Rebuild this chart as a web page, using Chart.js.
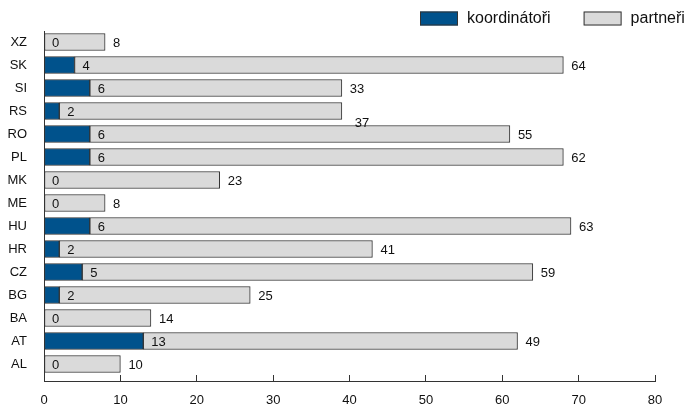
<!DOCTYPE html>
<html>
<head>
<meta charset="utf-8">
<script src="https://cdn.jsdelivr.net/npm/chart.js@4/dist/chart.umd.min.js"></script>
<style>
  html, body { margin: 0; padding: 0; background: #fff; }
  #wrap { width: 689px; height: 407px; position: relative; }
</style>
</head>
<body>
<div id="wrap"><canvas id="c"></canvas></div>
<script>
// categories, top to bottom as in the picture
const countries = ['XZ', 'SK', 'SI', 'RS', 'RO', 'PL', 'MK', 'ME', 'HU', 'HR', 'CZ', 'BG', 'BA', 'AT', 'AL'];
const coordinators = [0, 4, 6, 2, 6, 6, 0, 0, 6, 2, 5, 2, 0, 13, 0];
const partners = [8, 64, 33, 37, 55, 62, 23, 8, 63, 41, 59, 25, 14, 49, 10];
const xTicks = [0, 10, 20, 30, 40, 50, 60, 70, 80];

const BLUE = 'rgb(0, 82, 140)';
const GREY = 'rgb(218, 218, 218)';
const EDGE = '#333';
const FONT = '"Liberation Sans", Arial, Helvetica, sans-serif';

// the "37" label of RS sits a bit off in the original
const labelNudge = { RS: [5, 11] };

const toPoints = (arr) => arr.map((v, i) => ({ x: v, y: i }));

const valueLabels = {
  id: 'valueLabels',
  afterDatasetsDraw(chart) {
    const ctx = chart.ctx;
    ctx.save();
    ctx.font = '13px ' + FONT;
    ctx.fillStyle = '#111';
    ctx.textAlign = 'left';
    ctx.textBaseline = 'middle';
    chart.data.datasets.forEach((ds, di) => {
      const meta = chart.getDatasetMeta(di);
      meta.data.forEach((bar, i) => {
        let dx = 0, dy = 0;
        const nudge = labelNudge[countries[i]];
        if (di === 1 && nudge) { dx = nudge[0]; dy = nudge[1]; }
        ctx.fillText(String(ds.data[i].x), bar.x + 8 + dx, bar.y + 1 + dy);
      });
    });
    ctx.restore();
  }
};

const topLegend = {
  id: 'topLegend',
  afterDraw(chart) {
    const ctx = chart.ctx;
    ctx.save();
    ctx.font = '16px ' + FONT;
    const boxW = 38, boxH = 14, gap = 9, itemGap = 33, cy = 18.5;
    let x = 420;
    chart.data.datasets.forEach(ds => {
      ctx.fillStyle = ds.backgroundColor;
      ctx.fillRect(x, cy - boxH / 2, boxW, boxH);
      ctx.strokeStyle = EDGE;
      ctx.lineWidth = 1;
      ctx.strokeRect(x + 0.5, cy - boxH / 2 + 0.5, boxW - 1, boxH - 1);
      ctx.fillStyle = '#111';
      ctx.textBaseline = 'middle';
      ctx.fillText(ds.label, x + boxW + gap, cy);
      x += boxW + gap + ctx.measureText(ds.label).width + itemGap;
    });
    ctx.restore();
  }
};

new Chart(document.getElementById('c'), {
  type: 'bar',
  data: {
    datasets: [
      {
        label: 'koordinátoři',
        data: toPoints(coordinators),
        backgroundColor: BLUE,
        borderColor: EDGE,
        borderWidth: 1,
        borderSkipped: false,
        barThickness: 17
      },
      {
        label: 'partneři',
        data: toPoints(partners),
        backgroundColor: GREY,
        borderColor: EDGE,
        borderWidth: 1,
        borderSkipped: false,
        barThickness: 17
      }
    ]
  },
  options: {
    indexAxis: 'y',
    responsive: true,
    maintainAspectRatio: false,
    animation: false,
    layout: { padding: { top: 31, right: 34, left: 0, bottom: 0 } },
    plugins: {
      legend: { display: false },
      tooltip: { enabled: false }
    },
    scales: {
      x: {
        type: 'linear',
        stacked: true,
        min: 0,
        max: 80,
        afterBuildTicks: (scale) => { scale.ticks = xTicks.map(v => ({ value: v })); },
        afterFit: (scale) => { scale.height = 26; },
        grid: { drawOnChartArea: false, tickLength: -6, color: EDGE },
        border: { color: EDGE, width: 1 },
        ticks: { padding: 18, color: '#111', font: { family: FONT, size: 13 } }
      },
      y: {
        type: 'linear',
        stacked: true,
        reverse: true,
        offset: false,
        min: -0.48,
        max: 14.74,
        afterBuildTicks: (scale) => { scale.ticks = countries.map((c, i) => ({ value: i })); },
        afterFit: (scale) => { scale.width = 44; },
        grid: { display: false, offset: false },
        border: { color: EDGE, width: 1 },
        ticks: {
          autoSkip: false,
          padding: 9,
          color: '#111',
          font: { family: FONT, size: 13 },
          callback: (v) => countries[v] || ''
        }
      }
    }
  },
  plugins: [valueLabels, topLegend]
});
</script>
</body>
</html>
